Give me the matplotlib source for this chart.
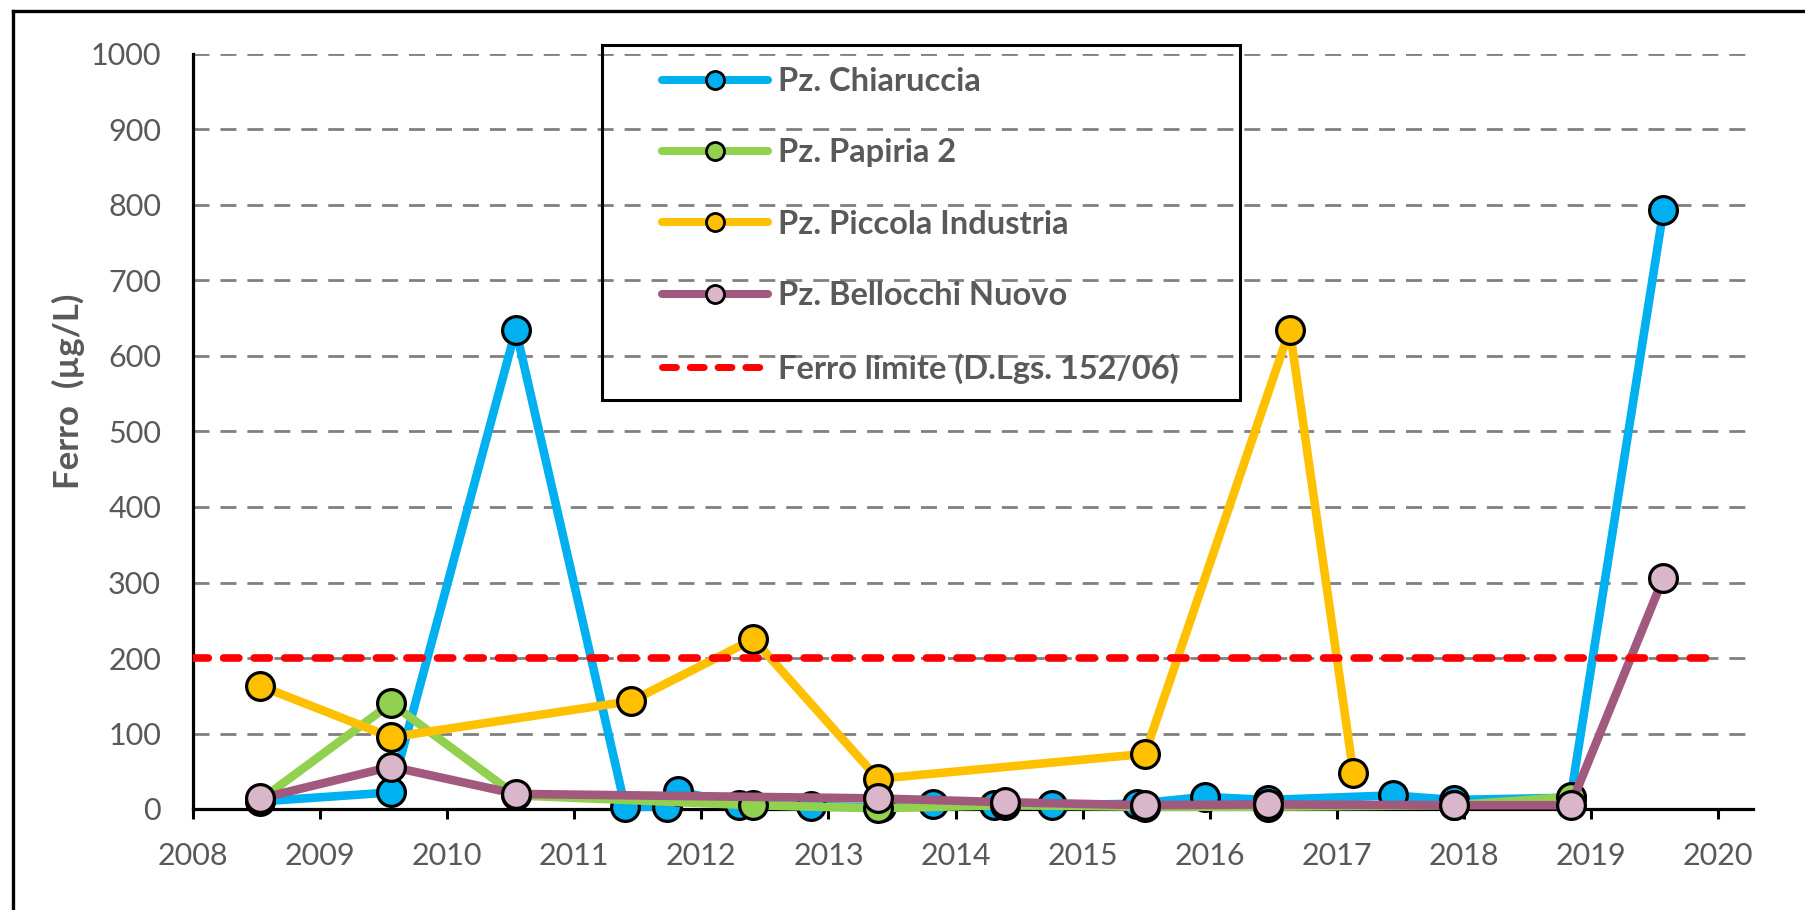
import matplotlib
matplotlib.use("Agg")
import matplotlib.pyplot as plt
from matplotlib.lines import Line2D

plt.rcParams['font.family'] = ['Lato', 'DejaVu Sans']
plt.rcParams['lines.scale_dashes'] = False

# ---- data ----
chiaruccia_x = [2008.53, 2009.56, 2010.54, 2011.40, 2011.73, 2011.82, 2012.30, 2012.86, 2013.41,
                2013.82, 2014.30, 2014.76, 2015.43, 2015.96, 2016.46, 2017.44, 2017.92, 2018.84, 2019.57]
chiaruccia_y = [10, 22, 635, 3, 3, 24, 5, 4, 2, 7, 5, 5, 7, 16, 12, 18, 12, 15, 793]

papiria_x = [2008.53, 2009.56, 2010.54, 2012.41, 2013.39, 2014.39, 2015.49, 2016.46, 2017.92, 2018.84]
papiria_y = [12, 140, 18, 5, 1, 5, 3, 3, 5, 16]

piccola_x = [2008.53, 2009.56, 2011.45, 2012.41, 2013.39, 2015.49, 2016.63, 2017.13]
piccola_y = [163, 95, 143, 225, 40, 73, 635, 48]

bellocchi_x = [2008.53, 2009.56, 2010.54, 2013.39, 2014.39, 2015.49, 2016.46, 2017.92, 2018.84, 2019.57]
bellocchi_y = [14, 56, 20, 14, 9, 5, 6, 5, 5, 306]

limit_x = [2008.0, 2019.95]
limit_y = [200, 200]

series_names = ["Pz. Chiaruccia", "Pz. Papiria 2", "Pz. Piccola Industria",
                "Pz. Bellocchi Nuovo", "Ferro limite (D.Lgs. 152/06)"]
y_ticks = [0, 100, 200, 300, 400, 500, 600, 700, 800, 900, 1000]
x_ticks = list(range(2008, 2021))
y_label = "Ferro  (µg/L)"

# ---- style ----
line_cols = ["#00B0F0", "#92D050", "#FFC000", "#A2597E"]
face_cols = ["#00B0F0", "#92D050", "#FFC000", "#D9B6CA"]
gray = "#595959"

W, H = 1805, 910
fig = plt.figure(figsize=(W / 100, H / 100), dpi=100)
fig.patch.set_facecolor("white")

ax = fig.add_axes([193 / W, 1 - 809 / H, (1753 - 193) / W, (809 - 54) / H])
ax.set_xlim(2008, 2020.275)
ax.set_ylim(0, 1000)

# grid
for yv in y_ticks[1:]:
    ax.axhline(yv, color="#808080", lw=2.0, dashes=(11.5, 7.9), zorder=1)

datasets = [(chiaruccia_x, chiaruccia_y), (papiria_x, papiria_y),
            (piccola_x, piccola_y), (bellocchi_x, bellocchi_y)]
for i, (xs, ys) in enumerate(datasets):
    ax.plot(xs, ys, color=line_cols[i], lw=6.2, marker="o", ms=20,
            mfc=face_cols[i], mec="black", mew=2.3, solid_joinstyle="round",
            solid_capstyle="round", zorder=3 + i, clip_on=False)

ax.plot(limit_x, limit_y, color="#FF0000", lw=5.5, dashes=(11, 11),
        dash_capstyle="round", zorder=8)

# axes style
for s in ["top", "right"]:
    ax.spines[s].set_visible(False)
for s in ["left", "bottom"]:
    ax.spines[s].set_linewidth(2.3)
    ax.spines[s].set_color("black")
    ax.spines[s].set_zorder(2)

ax.set_yticks(y_ticks)
ax.set_xticks(x_ticks)
ax.set_xticklabels([str(v) for v in x_ticks])
ax.tick_params(axis="y", length=0, pad=23, labelsize=22, labelcolor=gray)
ax.tick_params(axis="x", direction="out", length=7.5, width=2.2, color="black",
               pad=16, labelsize=22, labelcolor=gray)

fig.text(68 / W, 1 - 391 / H, y_label, rotation=90, ha="center", va="center",
         fontsize=25, fontweight="bold", color=gray)

# legend
handles = []
for i in range(4):
    handles.append(Line2D([], [], color=line_cols[i], lw=5.8, marker="o", ms=13,
                          mfc=face_cols[i], mec="black", mew=2.0, solid_capstyle="round"))
handles.append(Line2D([], [], color="#FF0000", lw=5.0, dashes=(10, 10), dash_capstyle="round"))

leg = fig.legend(handles, series_names, loc="upper left",
                 bbox_to_anchor=(662 / W, 1 - 67 / H), frameon=False,
                 borderpad=0, borderaxespad=0, handlelength=3.25, handletextpad=0.31,
                 labelspacing=1.30, prop={"family": "Lato", "weight": "bold", "size": 23.5})
for t in leg.get_texts():
    t.set_color(gray)

fig.add_artist(plt.Rectangle((602 / W, 1 - 400 / H), (1240 - 602) / W, (400 - 45) / H,
                             transform=fig.transFigure, fill=False, edgecolor="black",
                             lw=2.2, zorder=10))

# outer frame (top and left edges visible)
fig.add_artist(Line2D([13 / W, 13 / W], [0, 1 - 11 / H], transform=fig.transFigure,
                      color="black", lw=2.4))
fig.add_artist(Line2D([13 / W, 1], [1 - 11 / H, 1 - 11 / H], transform=fig.transFigure,
                      color="black", lw=2.4))

fig.savefig("out.png", dpi=100, facecolor="white")
